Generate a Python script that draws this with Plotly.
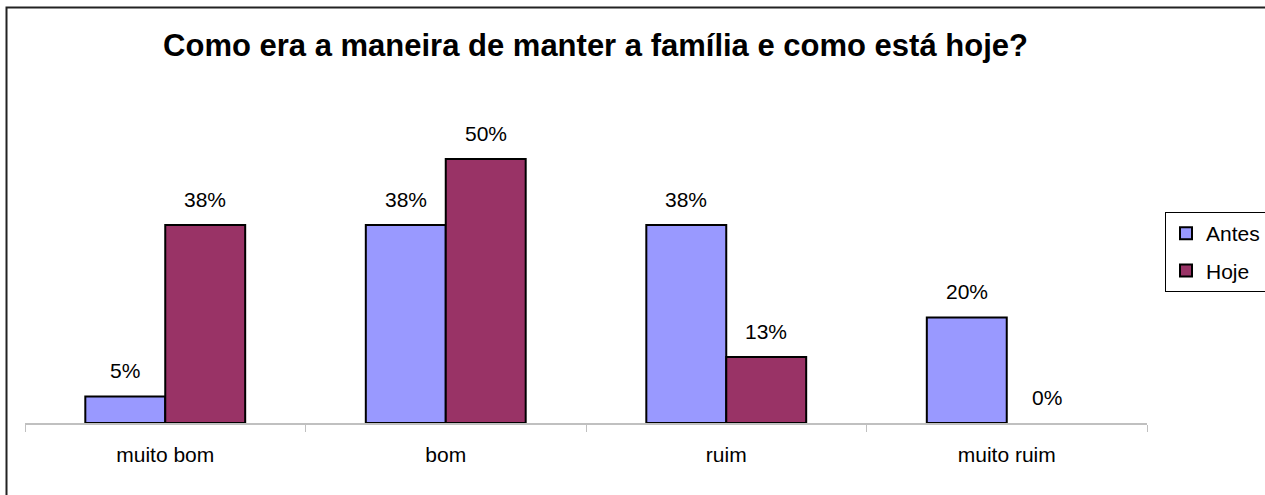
import plotly.graph_objects as go

categories = ["muito bom", "bom", "ruim", "muito ruim"]
antes = [5, 37.5, 37.5, 20]
hoje = [37.5, 50, 12.5, 0]
series_names = ["Antes", "Hoje"]
title_text = "Como era a maneira de manter a família e como está hoje?"

FONT = "Liberation Sans, Arial, sans-serif"
W, H = 1265, 495
ML, MR, MT, MB = 25, 118, 106, 72
PW, PH = W - ML - MR, H - MT - MB


def pct(v):
    return f"{int(v + 0.5)}%"


def outline(vals):
    # zero-height bars show no outline
    return [2 if v > 0 else 0 for v in vals]


fig = go.Figure()
fig.add_trace(go.Bar(
    x=categories, y=antes, name=series_names[0], legendgroup="a",
    marker=dict(color="#9999FF", line=dict(color="black", width=outline(antes))),
    hoverinfo="skip"))
fig.add_trace(go.Bar(
    x=categories, y=hoje, name=series_names[1], legendgroup="h",
    marker=dict(color="#993366", line=dict(color="black", width=outline(hoje))),
    hoverinfo="skip"))

annotations = []
for vals, shift in ((antes, -40), (hoje, 40)):
    for c, v in zip(categories, vals):
        annotations.append(dict(
            x=c, y=v, xref="x", yref="y", text=pct(v), showarrow=False,
            xshift=shift, yshift=26, yanchor="middle",
            font=dict(family=FONT, size=21, color="black")))

# outer frame of the chart (bottom/right run past the image edge)
shapes = [dict(
    type="rect", xref="paper", yref="paper",
    x0=(6.5 - ML) / PW, x1=(W + 10 - ML) / PW,
    y0=(MT + PH - (H + 10)) / PH, y1=(MT + PH - 7.5) / PH,
    line=dict(color="#222222", width=2), fillcolor="rgba(0,0,0,0)")]

fig.update_layout(
    width=W, height=H,
    margin=dict(l=ML, r=MR, t=MT, b=MB, pad=0, autoexpand=False),
    paper_bgcolor="white", plot_bgcolor="white",
    barmode="group", bargap=0.43, bargroupgap=0,
    title=dict(text=f"<b>{title_text}</b>", xref="container", yref="container",
               x=595.5 / W, xanchor="center", y=1 - 45 / H, yanchor="middle",
               font=dict(family=FONT, size=31, color="black")),
    font=dict(family=FONT, size=21, color="black"),
    showlegend=True,
    legend=dict(x=(1165 - ML) / PW, xanchor="left",
                y=(MT + PH - 212) / PH, yanchor="top",
                bordercolor="black", borderwidth=1, bgcolor="white",
                traceorder="grouped", tracegroupgap=7,
                font=dict(family=FONT, size=21, color="black"),
                itemclick=False, itemdoubleclick=False),
    annotations=annotations,
    shapes=shapes,
    xaxis=dict(type="category", range=[-0.5, 3.5], showline=True,
               linecolor="#C0C0C0", linewidth=2, ticks="outside",
               tickson="boundaries", ticklen=7, tickcolor="#C0C0C0",
               tickwidth=1, ticklabelstandoff=12, showgrid=False,
               tickfont=dict(family=FONT, size=21, color="black"),
               fixedrange=True, automargin=False),
    yaxis=dict(range=[0, PH / 5.28], visible=False, showgrid=False,
               zeroline=False, fixedrange=True, automargin=False),
)

fig.write_html(
    "out.html",
    config={"displayModeBar": False},
    post_script="document.body.style.margin='0';document.body.style.padding='0';",
)
